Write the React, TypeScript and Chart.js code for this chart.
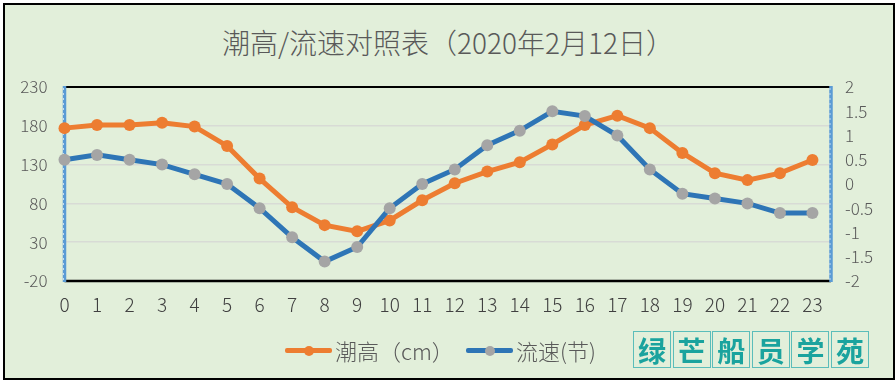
import React, { useEffect, useRef } from "react";
import { Chart, registerables } from "chart.js";

Chart.register(...registerables);

const hours = [0, 1, 2, 3, 4, 5, 6, 7, 8, 9, 10, 11, 12, 13, 14, 15, 16, 17, 18, 19, 20, 21, 22, 23];
const tideHeight = [177, 181, 181, 184, 179, 154, 112, 75, 52, 44, 58, 84, 106, 121, 133, 156, 181, 193, 177, 145, 119, 110, 119, 136];
const currentSpeed = [0.5, 0.6, 0.5, 0.4, 0.2, 0, -0.5, -1.1, -1.6, -1.3, -0.5, 0, 0.3, 0.8, 1.1, 1.5, 1.4, 1.0, 0.3, -0.2, -0.3, -0.4, -0.6, -0.6];
const leftTicks = [-20, 30, 80, 130, 180, 230];
const rightTicks = [-2, -1.5, -1, -0.5, 0, 0.5, 1, 1.5, 2];

const titleText = "潮高/流速对照表（2020年2月12日）";
const tideLabel = "潮高（cm）";
const speedLabel = "流速(节)";
const watermark = ["绿", "芒", "船", "员", "学", "苑"];

const FONT = "'Noto Sans CJK SC', 'Noto Sans', sans-serif";
const ORANGE = "#ED7D31";
const BLUE = "#2E75B6";
const GREY = "#A5A5A5";
const TEXT = "#595959";

const frameLines = {
  id: "frameLines",
  beforeDatasetsDraw(chart: any) {
    const { ctx, chartArea } = chart;
    const { left, right, top, bottom } = chartArea;
    ctx.save();
    ctx.strokeStyle = "#000";
    ctx.lineWidth = 2;
    ctx.beginPath();
    ctx.moveTo(left, top);
    ctx.lineTo(right, top);
    ctx.stroke();
    ctx.lineWidth = 2.5;
    ctx.beginPath();
    ctx.moveTo(left, bottom);
    ctx.lineTo(right, bottom);
    ctx.stroke();
    for (const x of [left, right]) {
      ctx.strokeStyle = "#5B9BD5";
      ctx.lineWidth = 3.5;
      ctx.beginPath();
      ctx.moveTo(x, top - 1);
      ctx.lineTo(x, bottom + 1);
      ctx.stroke();
      ctx.strokeStyle = "#C5DCF0";
      ctx.lineWidth = 1;
      ctx.setLineDash([2, 3]);
      ctx.beginPath();
      ctx.moveTo(x - 1, top + 1);
      ctx.lineTo(x - 1, bottom);
      ctx.stroke();
      ctx.setLineDash([]);
    }
    ctx.restore();
  },
};

export default function App() {
  const ref = useRef<HTMLCanvasElement | null>(null);

  useEffect(() => {
    if (!ref.current) return;
    const chart = new Chart(ref.current, {
      type: "line",
      data: {
        datasets: [
          {
            label: speedLabel,
            data: hours.map((h, i) => ({ x: h, y: currentSpeed[i] })),
            yAxisID: "y1",
            borderColor: BLUE,
            borderWidth: 5,
            pointRadius: 6,
            pointBackgroundColor: GREY,
            pointBorderWidth: 0,
            tension: 0,
            clip: false as any,
            order: 0,
          },
          {
            label: tideLabel,
            data: hours.map((h, i) => ({ x: h, y: tideHeight[i] })),
            yAxisID: "y",
            borderColor: ORANGE,
            borderWidth: 5,
            pointRadius: 6,
            pointBackgroundColor: ORANGE,
            pointBorderWidth: 0,
            tension: 0,
            clip: false as any,
            order: 1,
          },
        ],
      },
      options: {
        responsive: false,
        animation: false,
        layout: { padding: { top: 87, left: 0, right: 0, bottom: 0 } },
        plugins: {
          legend: { display: false },
          title: { display: false },
          tooltip: { enabled: false },
        },
        scales: {
          x: {
            type: "linear",
            min: 0,
            max: 23.57,
            afterBuildTicks: (scale: any) => {
              scale.ticks = hours.map((v) => ({ value: v }));
            },
            afterFit: (scale: any) => {
              scale.height = 106;
            },
            grid: { display: false, drawTicks: false },
            border: { display: false },
            ticks: {
              padding: 12,
              color: "#404040",
              font: { family: FONT, size: 19, weight: "300" as any },
              maxRotation: 0,
              autoSkip: false,
              callback: (v: any) => String(v),
            },
          },
          y: {
            type: "linear",
            position: "left",
            min: -20,
            max: 230,
            afterBuildTicks: (scale: any) => {
              scale.ticks = leftTicks.map((v) => ({ value: v }));
            },
            afterFit: (scale: any) => {
              scale.width = 64.5;
            },
            grid: {
              drawTicks: false,
              lineWidth: 1.5,
              color: (c: any) =>
                c.tick && (c.tick.value === 230 || c.tick.value === -20) ? "rgba(0,0,0,0)" : "#D8DBD5",
            },
            border: { display: false },
            ticks: {
              padding: 17,
              color: TEXT,
              font: { family: FONT, size: 17, weight: "300" as any },
              callback: (v: any) => String(v),
            },
          },
          y1: {
            type: "linear",
            position: "right",
            min: -2,
            max: 2,
            afterBuildTicks: (scale: any) => {
              scale.ticks = rightTicks.map((v) => ({ value: v }));
            },
            afterFit: (scale: any) => {
              scale.width = 65;
            },
            grid: { display: false, drawTicks: false },
            border: { display: false },
            ticks: {
              padding: 14,
              color: TEXT,
              font: { family: FONT, size: 17, weight: "300" as any },
              callback: (v: any) => String(v),
            },
          },
        },
      },
      plugins: [frameLines],
    });
    return () => chart.destroy();
  }, []);

  const legendItem = (left: number, lineColor: string, dotColor: string, label: string) => (
    <div style={{ position: "absolute", left, top: 335, height: 30, display: "flex", alignItems: "center" }}>
      <div style={{ position: "relative", width: 47, height: 30 }}>
        <div style={{ position: "absolute", left: 0, top: 13, width: 47, height: 4.5, background: lineColor, borderRadius: 2 }} />
        <div style={{ position: "absolute", left: 18.5, top: 10.5, width: 10, height: 10, borderRadius: 5, background: dotColor }} />
      </div>
      <span style={{ marginLeft: 3, fontFamily: FONT, fontSize: 22, fontWeight: 300, color: TEXT, lineHeight: "30px", whiteSpace: "nowrap" }}>{label}</span>
    </div>
  );

  return (
    <div style={{ position: "fixed", left: 0, top: 0, width: 896, height: 387, background: "#fff", overflow: "hidden" }}>
      <div
        style={{
          position: "absolute",
          left: 3,
          top: 3,
          width: 892,
          height: 377,
          border: "2.5px solid #000",
          boxSizing: "border-box",
          background: "#E2EFDA",
        }}
      />
      <div
        style={{
          position: "absolute",
          left: 0,
          top: 24,
          width: 896,
          textAlign: "center",
          fontFamily: FONT,
          fontSize: 28,
          fontWeight: 300,
          lineHeight: "36px",
          color: TEXT,
          whiteSpace: "nowrap",
        }}
      >
        {titleText}
      </div>
      <canvas ref={ref} width={896} height={387} style={{ position: "absolute", left: 0, top: 0, width: 896, height: 387 }} />
      {legendItem(285, ORANGE, ORANGE, tideLabel)}
      {legendItem(466, BLUE, GREY, speedLabel)}
      {watermark.map((ch, i) => (
        <div
          key={i}
          style={{
            position: "absolute",
            left: 633 + i * 39.6,
            top: 331,
            width: 38,
            height: 37,
            border: "1px solid #5BBDBA",
            boxSizing: "border-box",
            display: "flex",
            alignItems: "center",
            justifyContent: "center",
            fontFamily: FONT,
            fontWeight: 700,
            fontSize: 28,
            color: "#1AA39E",
            lineHeight: "36px",
          }}
        >
          {ch}
        </div>
      ))}
    </div>
  );
}
